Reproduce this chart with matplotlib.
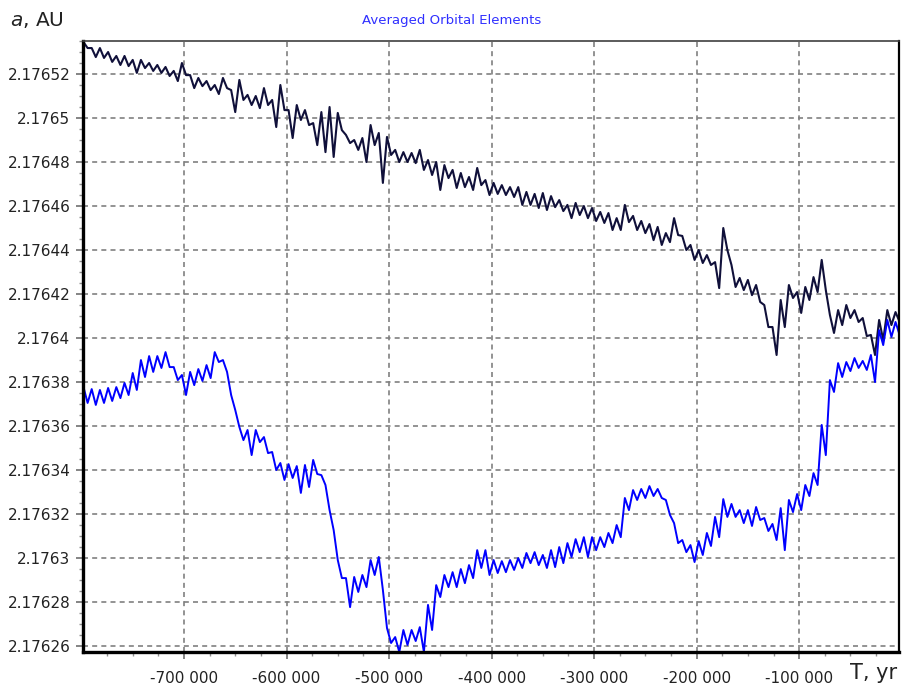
import matplotlib
matplotlib.use("Agg")
import matplotlib.pyplot as plt
from matplotlib.ticker import MultipleLocator, FuncFormatter

# time samples, thousands of years
t_kyr = [-796, -788, -780, -772, -764, -756, -748, -740, -732, -724,
         -716, -708, -700, -692, -684, -676, -668, -660, -652, -644,
         -636, -628, -620, -612, -604, -596, -588, -580, -572, -564,
         -556, -548, -540, -532, -524, -516, -508, -500, -492, -484,
         -476, -468, -460, -452, -444, -436, -428, -420, -412, -404,
         -396, -388, -380, -372, -364, -356, -348, -340, -332, -324,
         -316, -308, -300, -292, -284, -276, -268, -260, -252, -244,
         -236, -228, -220, -212, -204, -196, -188, -180, -172, -164,
         -156, -148, -140, -132, -124, -116, -108, -100, -92, -84,
         -76, -68, -60, -52, -44, -36, -28, -20, -12, -4]

# dark curve: upper / lower edge of the noisy band (AU)
dark_hi = [2.1765345, 2.1765318, 2.1765318, 2.1765300, 2.1765282, 2.1765282, 2.1765264, 2.1765264, 2.1765250, 2.1765241,
           2.1765232, 2.1765214, 2.1765250, 2.1765195, 2.1765182, 2.1765168, 2.1765150, 2.1765182, 2.1765127, 2.1765173,
           2.1765105, 2.1765100, 2.1765136, 2.1765082, 2.1765150, 2.1765036, 2.1765059, 2.1765036, 2.1764977, 2.1765027,
           2.1765050, 2.1765023, 2.1764923, 2.1764900, 2.1764909, 2.1764968, 2.1764932, 2.1764914, 2.1764855, 2.1764845,
           2.1764841, 2.1764855, 2.1764809, 2.1764800, 2.1764786, 2.1764764, 2.1764750, 2.1764732, 2.1764773, 2.1764718,
           2.1764705, 2.1764695, 2.1764686, 2.1764686, 2.1764664, 2.1764655, 2.1764659, 2.1764645, 2.1764627, 2.1764605,
           2.1764614, 2.1764600, 2.1764591, 2.1764573, 2.1764568, 2.1764545, 2.1764605, 2.1764555, 2.1764532, 2.1764518,
           2.1764505, 2.1764477, 2.1764545, 2.1764464, 2.1764423, 2.1764400, 2.1764377, 2.1764345, 2.1764500, 2.1764332,
           2.1764273, 2.1764264, 2.1764241, 2.1764150, 2.1764050, 2.1764173, 2.1764241, 2.1764209, 2.1764232, 2.1764277,
           2.1764355, 2.1764105, 2.1764127, 2.1764150, 2.1764127, 2.1764091, 2.1764014, 2.1764082, 2.1764127, 2.1764118]
dark_lo = [2.1765318, 2.1765277, 2.1765273, 2.1765255, 2.1765241, 2.1765236, 2.1765205, 2.1765227, 2.1765214, 2.1765205,
           2.1765191, 2.1765168, 2.1765195, 2.1765136, 2.1765145, 2.1765127, 2.1765109, 2.1765136, 2.1765027, 2.1765082,
           2.1765059, 2.1765045, 2.1765059, 2.1764959, 2.1765036, 2.1764909, 2.1764991, 2.1764968, 2.1764877, 2.1764845,
           2.1764823, 2.1764945, 2.1764886, 2.1764855, 2.1764800, 2.1764877, 2.1764705, 2.1764832, 2.1764800, 2.1764800,
           2.1764795, 2.1764764, 2.1764741, 2.1764673, 2.1764727, 2.1764682, 2.1764686, 2.1764673, 2.1764695, 2.1764650,
           2.1764655, 2.1764650, 2.1764641, 2.1764605, 2.1764605, 2.1764591, 2.1764582, 2.1764595, 2.1764577, 2.1764545,
           2.1764559, 2.1764545, 2.1764532, 2.1764523, 2.1764491, 2.1764491, 2.1764527, 2.1764491, 2.1764477, 2.1764445,
           2.1764423, 2.1764436, 2.1764468, 2.1764400, 2.1764355, 2.1764341, 2.1764332, 2.1764227, 2.1764400, 2.1764232,
           2.1764218, 2.1764195, 2.1764164, 2.1764050, 2.1763923, 2.1764050, 2.1764182, 2.1764114, 2.1764173, 2.1764209,
           2.1764218, 2.1764023, 2.1764059, 2.1764091, 2.1764073, 2.1764009, 2.1763923, 2.1763991, 2.1764059, 2.1764073]

# blue curve: upper / lower edge of the noisy band (AU)
blue_hi = [2.1763777, 2.1763768, 2.1763764, 2.1763773, 2.1763777, 2.1763796, 2.1763841, 2.1763900, 2.1763918, 2.1763918,
           2.1763936, 2.1763868, 2.1763832, 2.1763846, 2.1763859, 2.1763877, 2.1763936, 2.1763900, 2.1763741, 2.1763596,
           2.1763582, 2.1763582, 2.1763550, 2.1763482, 2.1763432, 2.1763427, 2.1763418, 2.1763423, 2.1763446, 2.1763377,
           2.1763218, 2.1762991, 2.1762909, 2.1762914, 2.1762923, 2.1762991, 2.1763005, 2.1762682, 2.1762641, 2.1762673,
           2.1762673, 2.1762686, 2.1762787, 2.1762877, 2.1762923, 2.1762936, 2.1762950, 2.1762968, 2.1763036, 2.1763036,
           2.1762991, 2.1762986, 2.1762991, 2.1763000, 2.1763023, 2.1763027, 2.1763014, 2.1763036, 2.1763050, 2.1763068,
           2.1763086, 2.1763095, 2.1763095, 2.1763095, 2.1763114, 2.1763150, 2.1763273, 2.1763309, 2.1763314, 2.1763327,
           2.1763314, 2.1763264, 2.1763159, 2.1763082, 2.1763059, 2.1763077, 2.1763114, 2.1763187, 2.1763268, 2.1763246,
           2.1763218, 2.1763218, 2.1763232, 2.1763182, 2.1763155, 2.1763227, 2.1763264, 2.1763291, 2.1763332, 2.1763386,
           2.1763605, 2.1763809, 2.1763886, 2.1763891, 2.1763909, 2.1763896, 2.1763923, 2.1764036, 2.1764082, 2.1764073]
blue_lo = [2.1763705, 2.1763696, 2.1763705, 2.1763714, 2.1763727, 2.1763741, 2.1763764, 2.1763823, 2.1763846, 2.1763864,
           2.1763868, 2.1763809, 2.1763741, 2.1763786, 2.1763805, 2.1763818, 2.1763891, 2.1763846, 2.1763673, 2.1763536,
           2.1763468, 2.1763527, 2.1763477, 2.1763400, 2.1763355, 2.1763364, 2.1763296, 2.1763323, 2.1763382, 2.1763332,
           2.1763127, 2.1762909, 2.1762777, 2.1762846, 2.1762868, 2.1762923, 2.1762855, 2.1762614, 2.1762573, 2.1762605,
           2.1762623, 2.1762573, 2.1762673, 2.1762823, 2.1762868, 2.1762868, 2.1762886, 2.1762909, 2.1762955, 2.1762923,
           2.1762932, 2.1762936, 2.1762946, 2.1762955, 2.1762977, 2.1762968, 2.1762955, 2.1762959, 2.1762977, 2.1763005,
           2.1763027, 2.1763005, 2.1763036, 2.1763050, 2.1763068, 2.1763095, 2.1763218, 2.1763264, 2.1763273, 2.1763282,
           2.1763273, 2.1763196, 2.1763068, 2.1763027, 2.1762982, 2.1763014, 2.1763055, 2.1763095, 2.1763187, 2.1763187,
           2.1763159, 2.1763146, 2.1763173, 2.1763123, 2.1763082, 2.1763036, 2.1763209, 2.1763218, 2.1763282, 2.1763332,
           2.1763468, 2.1763755, 2.1763823, 2.1763850, 2.1763864, 2.1763855, 2.1763800, 2.1763968, 2.1764005, 2.1764014]


def zigzag(t, hi, lo):
    # put the upper and lower edge one after the other so the line looks noisy
    xs, ys = [], []
    for tk, h, l in zip(t, hi, lo):
        xs += [(tk - 2) * 1000, (tk + 2) * 1000]
        ys += [h, l]
    return xs, ys


def y_fmt(v, pos):
    return ("%.5f" % v).rstrip("0").rstrip(".")


def x_fmt(v, pos):
    return "{:,}".format(int(round(v))).replace(",", " ")


plt.rcParams["font.family"] = "DejaVu Sans"
plt.rcParams["mathtext.fontset"] = "dejavusans"

fig = plt.figure(figsize=(9.08, 6.88), dpi=100)
ax = fig.add_axes([0.0914, 0.0523, 0.8987, 0.8881])

x, y = zigzag(t_kyr, dark_hi, dark_lo)
ax.plot(x, y, color="#10103a", lw=1.5)
x, y = zigzag(t_kyr, blue_hi, blue_lo)
ax.plot(x, y, color="#0000ff", lw=1.4)

ax.set_xlim(-798500, -2600)
ax.set_ylim(2.1762573, 2.176535)

ax.xaxis.set_major_locator(MultipleLocator(100000))
ax.xaxis.set_minor_locator(MultipleLocator(25000))
ax.yaxis.set_major_locator(MultipleLocator(0.00002))
ax.yaxis.set_minor_locator(MultipleLocator(0.000005))
ax.xaxis.set_major_formatter(FuncFormatter(x_fmt))
ax.yaxis.set_major_formatter(FuncFormatter(y_fmt))

ax.tick_params(which="major", direction="out", length=5, width=1.2, color="#707070",
               labelsize=11, labelcolor="#222222", pad=4)
ax.tick_params(which="minor", direction="out", length=3, width=1.0, color="#909090")
ax.tick_params(axis="x", which="major", pad=9)

ax.grid(True, which="major", color="#808080", lw=1.2, linestyle=(0, (3, 2.5)))

ax.spines["left"].set_linewidth(2.4)
ax.spines["bottom"].set_linewidth(2.4)
ax.spines["top"].set_linewidth(1.2)
ax.spines["top"].set_color("#404040")
ax.spines["right"].set_linewidth(1.6)

fig.text(0.497, 0.970, "Averaged Orbital Elements", color="#3030ff", fontsize=9.5,
         ha="center", va="center")
fig.text(0.011, 0.971, r"$a$, AU", color="#222222", fontsize=14.5, ha="left", va="center")
fig.text(0.988, 0.022, "T, yr", color="#222222", fontsize=15, ha="right", va="center")

fig.savefig("out.png", dpi=100)
plt.close()
